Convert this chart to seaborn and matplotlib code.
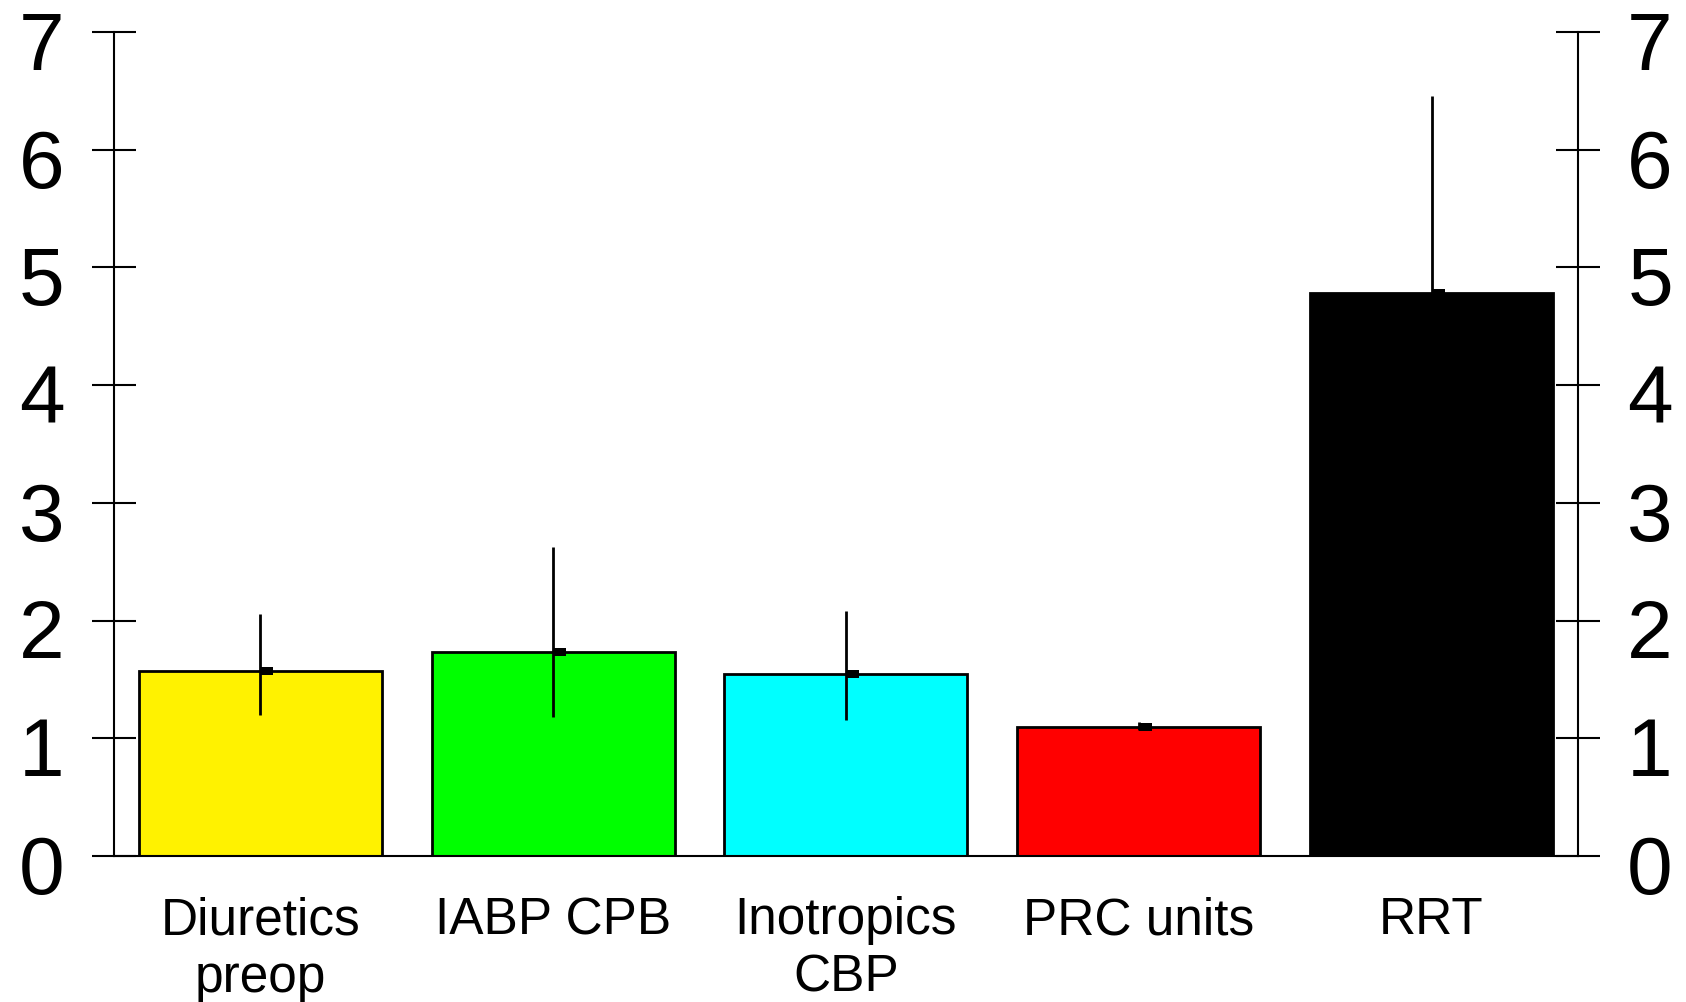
import numpy as np
import pandas as pd
import seaborn as sns
import matplotlib
matplotlib.use("Agg")
import matplotlib.pyplot as plt
import matplotlib.transforms as mtransforms
from matplotlib.path import Path

# ===============================
# Data
# ===============================
categories = ["Diuretics\npreop", "IABP CPB", "Inotropics\nCBP", "PRC units", "RRT"]
means = [1.57, 1.73, 1.55, 1.10, 4.78]
ci_low = [1.20, 1.18, 1.155, 1.07, 3.60]
ci_high = [2.06, 2.625, 2.08, 1.14, 6.46]
bar_colors = ["#FFF200", "#00FF00", "#00FFFF", "#FF0000", "#000000"]
y_ticks = [0, 1, 2, 3, 4, 5, 6, 7]

df = pd.DataFrame({"category": categories, "value": means})

# ===============================
# Figure
# ===============================
sns.set_style("white")
plt.rcParams["font.family"] = ["Liberation Sans", "DejaVu Sans"]
plt.rcParams["text.color"] = "black"
plt.rcParams["xtick.color"] = "black"
plt.rcParams["ytick.color"] = "black"

fig = plt.figure(figsize=(16.86, 10.02), dpi=100)
ax = fig.add_axes([0.0676, 0.1457, 0.8683, 0.8223])

sns.barplot(
    data=df, x="category", y="value", hue="category",
    palette=bar_colors, legend=False, errorbar=None,
    width=0.83, edgecolor="black", linewidth=2, saturation=1, ax=ax
)

x = np.arange(len(categories))
m = np.array(means)
yerr = [m - np.array(ci_low), np.array(ci_high) - m]
ax.errorbar(x, m, yerr=yerr, fmt="none", ecolor="black",
            elinewidth=2, capsize=0, zorder=5)

# small rectangular mean marker, sitting just right of the CI line
rect = Path([(0, -0.3), (1, -0.3), (1, 0.3), (0, 0.3), (0, -0.3)],
            [Path.MOVETO, Path.LINETO, Path.LINETO, Path.LINETO, Path.CLOSEPOLY])
ax.plot(x, m, linestyle="none", marker=rect, markersize=19,
        color="black", markeredgewidth=0, zorder=6)

# ===============================
# Axes styling
# ===============================
ax.set_ylim(0, 7)
ax.set_xlim(-0.5, len(categories) - 0.5)
ax.set_yticks(y_ticks)
ax.set_yticklabels([str(t) for t in y_ticks])
ax.tick_params(axis="y", which="major", direction="inout", length=31,
               width=1.5, color="black", labelcolor="black", labelsize=59,
               pad=20, left=True, right=True, labelleft=True, labelright=True)

ax.set_xticks(np.arange(len(categories) + 1) - 0.5)
ax.set_xticklabels([])
ax.set_xticks(x, minor=True)
ax.set_xticklabels(categories, minor=True, linespacing=1.22)
ax.tick_params(axis="x", which="major", direction="inout", length=27,
               width=1.5, color="black")
ax.tick_params(axis="x", which="minor", length=0, labelsize=37,
               labelcolor="black", pad=29)

ax.set_xlabel("")
ax.set_ylabel("")
for side in ["left", "right", "bottom"]:
    ax.spines[side].set_visible(True)
    ax.spines[side].set_color("black")
    ax.spines[side].set_linewidth(1.5)
ax.spines["top"].set_visible(False)

# reference digits sit a little below their ticks
shift = mtransforms.ScaledTranslation(0, -6 / 72, fig.dpi_scale_trans)
for tick in ax.yaxis.get_major_ticks():
    tick.label1.set_transform(tick.label1.get_transform() + shift)
    tick.label2.set_transform(tick.label2.get_transform() + shift)

fig.savefig("out.png", dpi=100, facecolor="white")
